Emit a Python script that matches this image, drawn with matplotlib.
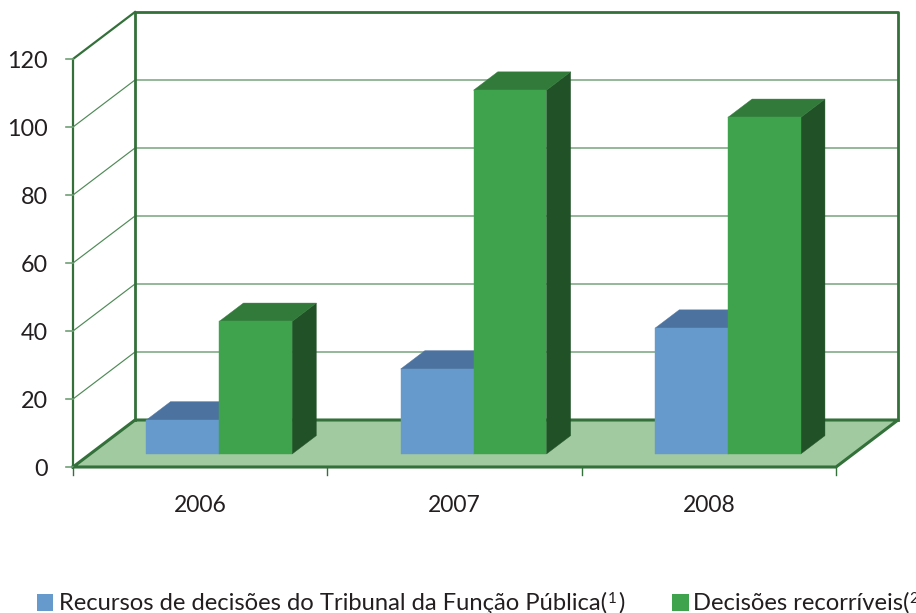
import matplotlib
matplotlib.use("Agg")
import matplotlib.pyplot as plt
from matplotlib.patches import Polygon, Rectangle

years = ["2006", "2007", "2008"]
recursos = [10, 25, 37]
decisoes = [39, 107, 99]
y_ticks = [0, 20, 40, 60, 80, 100, 120]
legend_1 = "Recursos de decisões do Tribunal da Função Pública("
legend_2 = "Decisões recorríveis("

W, H = 916, 613
CAT_PX = 254.33   # pixels per category on the front edge
VAL_PX = 3.4      # pixels per unit of value
X0, Y0 = 73, 467  # where the front corner of the floor sits
DX = 62 / CAT_PX  # depth shift of the back wall, in data units
DY = 47 / VAL_PX

FONT = "Lato"
TXT = "#231f20"
EDGE = "#33703a"
GRID = "#4f8a57"
FLOOR = "#a2caa0"
BLUE = ("#6699cc", "#4c739f", "#3f5f85")
GREEN = ("#3fa34d", "#317a3a", "#215227")

BAR_OFF = 0.221
BAR_W = 0.2865
D_FRONT = 0.277
D_BACK = 0.667


def pr(c, v, d=0.0):
    # fake 3d: depth d goes from 0 (front) to 1 (back wall)
    return (c + d * DX, v + d * DY)


def face(ax, pts, color, z):
    ax.add_patch(Polygon(pts, closed=True, facecolor=color, edgecolor=color,
                         linewidth=0.3, zorder=z))


def bar3d(ax, c0, c1, v, cols, z):
    front = [pr(c0, 0, D_FRONT), pr(c1, 0, D_FRONT), pr(c1, v, D_FRONT), pr(c0, v, D_FRONT)]
    top = [pr(c0, v, D_FRONT), pr(c1, v, D_FRONT), pr(c1, v, D_BACK), pr(c0, v, D_BACK)]
    side = [pr(c1, 0, D_FRONT), pr(c1, 0, D_BACK), pr(c1, v, D_BACK), pr(c1, v, D_FRONT)]
    face(ax, side, cols[2], z)
    face(ax, top, cols[1], z + 0.1)
    face(ax, front, cols[0], z + 0.2)


fig = plt.figure(figsize=(W / 100, H / 100), dpi=100)
ax = fig.add_axes([0, 0, 1, 1])
ax.set_xlim(-X0 / CAT_PX, (W - X0) / CAT_PX)
ax.set_ylim(-(H - Y0) / VAL_PX, Y0 / VAL_PX)
ax.axis("off")

n = len(years)
vmax = y_ticks[-1]

# floor
face(ax, [pr(0, 0), pr(n, 0), pr(n, 0, 1), pr(0, 0, 1)], FLOOR, 1)

# grid on the walls
for v in y_ticks[1:-1]:
    ax.plot(*zip(pr(0, v), pr(0, v, 1), pr(n, v, 1)), color=GRID, lw=0.85, zorder=2)

# walls
ax.plot(*zip(pr(0, 0, 1), pr(0, vmax, 1), pr(n, vmax, 1), pr(n, 0, 1)), color=EDGE, lw=2.0, zorder=3)
ax.plot(*zip(pr(0, 0), pr(0, vmax), pr(0, vmax, 1)), color=EDGE, lw=1.6, zorder=3)
ax.plot(*zip(pr(0, 0), pr(n, 0), pr(n, 0, 1), pr(0, 0, 1), pr(0, 0)), color=EDGE, lw=2.2, zorder=3)

# bars
for i in range(n):
    c0 = i + BAR_OFF
    bar3d(ax, c0, c0 + BAR_W, recursos[i], BLUE, 5 + i)
    bar3d(ax, c0 + BAR_W, c0 + 2 * BAR_W, decisoes[i], GREEN, 5.5 + i)

# y ticks
for v in y_ticks:
    ax.plot([-7 / CAT_PX, 0], [v, v], color="#6f9f76", lw=1.2, zorder=3)
    ax.text(-25 / CAT_PX, v - 2.5 / VAL_PX, str(v), ha="right", va="center", fontsize=16.8,
            family=FONT, color=TXT)

# x ticks
for i in range(n + 1):
    ax.plot([i, i], [0, -8 / VAL_PX], color=EDGE, lw=1.0, zorder=3)
for i, y in enumerate(years):
    ax.text(i + 0.5, -38 / VAL_PX, y, ha="center", va="center", fontsize=16.5,
            family=FONT, color=TXT)

# legend, built by hand because the second entry runs off the page
fig.patches.append(Rectangle((37 / W, 1 - 611 / H), 16 / W, 17 / H, transform=fig.transFigure,
                             facecolor=BLUE[0], edgecolor="none", figure=fig))
fig.patches.append(Rectangle((672 / W, 1 - 611 / H), 17 / W, 17 / H, transform=fig.transFigure,
                             facecolor=GREEN[0], edgecolor="none", figure=fig))


def pxt(x, y, s, size=17.1):
    return fig.text(x / W, 1 - y / H, s, fontsize=size, family=FONT, color=TXT,
                    ha="left", va="baseline")


r = fig.canvas.get_renderer()
t = pxt(59, 610, legend_1)
x = t.get_window_extent(r).x1
t = pxt(x + 1, 603, "1", 11)
x = t.get_window_extent(r).x1
pxt(x + 1, 610, ")")
t = pxt(693, 610, legend_2)
x = t.get_window_extent(r).x1
pxt(x, 603, "2", 11)

fig.savefig("out.png", dpi=100)
